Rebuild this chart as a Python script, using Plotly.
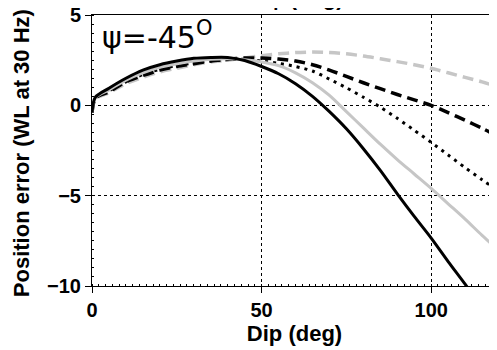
import plotly.graph_objects as go

# Data
dip = [0, 1, 5, 10, 15, 20, 25, 30, 35, 40, 45, 50, 55, 60, 65, 70, 75, 80, 85, 90, 95, 100, 105, 110, 115, 120]

black_solid = [-0.4, 0.45, 0.95, 1.5, 1.95, 2.25, 2.45, 2.6, 2.65, 2.65, 2.48, 2.15, 1.75, 1.2, 0.5, -0.35, -1.3, -2.4, -3.6, -4.9, -6.15, -7.35, -8.65, -9.9, -11.2, -12.5]
gray_solid = [-0.4, 0.42, 0.85, 1.4, 1.8, 2.1, 2.3, 2.45, 2.55, 2.58, 2.52, 2.4, 2.2, 1.8, 1.25, 0.55, -0.35, -1.25, -2.15, -3.0, -3.8, -4.6, -5.45, -6.3, -7.2, -8.05]
black_dotted = [-0.4, 0.4, 0.8, 1.3, 1.7, 2.0, 2.2, 2.35, 2.45, 2.52, 2.55, 2.45, 2.33, 2.15, 1.9, 1.45, 0.97, 0.45, -0.1, -0.72, -1.38, -2.05, -2.75, -3.45, -4.12, -4.75]
black_dashed = [-0.4, 0.4, 0.75, 1.3, 1.65, 1.95, 2.15, 2.3, 2.45, 2.55, 2.62, 2.62, 2.56, 2.45, 2.25, 1.95, 1.6, 1.25, 0.92, 0.6, 0.3, 0.0, -0.4, -0.83, -1.27, -1.75]
gray_dashed = [-0.4, 0.35, 0.7, 1.2, 1.55, 1.85, 2.05, 2.25, 2.4, 2.5, 2.62, 2.75, 2.85, 2.92, 2.95, 2.92, 2.85, 2.73, 2.58, 2.42, 2.25, 2.05, 1.8, 1.55, 1.3, 1.0]

x_ticks = [0, 50, 100]
y_ticks = [-10, -5, 0, 5]

FONT = "Arial, Liberation Sans, Helvetica, sans-serif"
GRAY = "#c6c6c6"

fig = go.Figure()
series = [
    (gray_dashed, GRAY, "11px,6px", 3.5),
    (black_dashed, "black", "11px,6px", 3.5),
    (black_dotted, "black", "3px,5px", 3),
    (gray_solid, GRAY, "solid", 3),
    (black_solid, "black", "solid", 3),
]
for vals, col, dash, w in series:
    fig.add_trace(go.Scatter(x=dip, y=vals, mode="lines",
                             line=dict(color=col, dash=dash, width=w, shape="spline", smoothing=0.8),
                             showlegend=False, hoverinfo="skip"))

axis_common = dict(
    showline=True, linecolor="black", linewidth=1,
    ticks="outside", ticklen=6, tickcolor="black", tickwidth=1,
    tickfont=dict(family=FONT, size=20, color="black", weight="bold"),
    ticklabeloverflow="allow",
    showgrid=True, gridcolor="black", gridwidth=1, griddash="dot",
    zeroline=False, automargin=False,
    minor=dict(ticks="inside", ticklen=2, tickcolor="black", tickwidth=1, showgrid=False),
)

# the page body adds an 8px offset, so the figure is sized to the visible area
fig.update_layout(
    width=489, height=342,
    margin=dict(l=84, r=0, t=7, b=64),
    plot_bgcolor="white", paper_bgcolor="white",
    xaxis=dict(range=[0, 119.4], tickvals=x_ticks, mirror=True,
               minor_dtick=2,
               title=dict(text="Dip (deg)", font=dict(family=FONT, size=22, color="black", weight="bold"), standoff=5),
               **axis_common),
    yaxis=dict(range=[-10, 5], tickvals=y_ticks,
               minor_dtick=0.5,
               **axis_common),
)

# y-axis title
fig.add_annotation(x=0, y=0.49, xref="paper", yref="paper", xanchor="center", yanchor="middle",
                   xshift=-71, textangle=-90, showarrow=False,
                   text="Position error (WL at 30 Hz)",
                   font=dict(family=FONT, size=22, color="black", weight="bold"))
fig.add_annotation(x=0.02, y=1, xref="paper", yref="paper", xanchor="left", yanchor="top",
                   text="ψ=-45<sup>O</sup>", showarrow=False, yshift=1,
                   font=dict(family="DejaVu Sans", size=30, color="black"))
fig.add_annotation(x=63, y=1, xref="x", yref="paper", xanchor="center", yanchor="bottom",
                   text="φ (deg)", showarrow=False, yshift=3,
                   font=dict(family=FONT, size=22, color="black", weight="bold"))

fig.write_html("out.html")
